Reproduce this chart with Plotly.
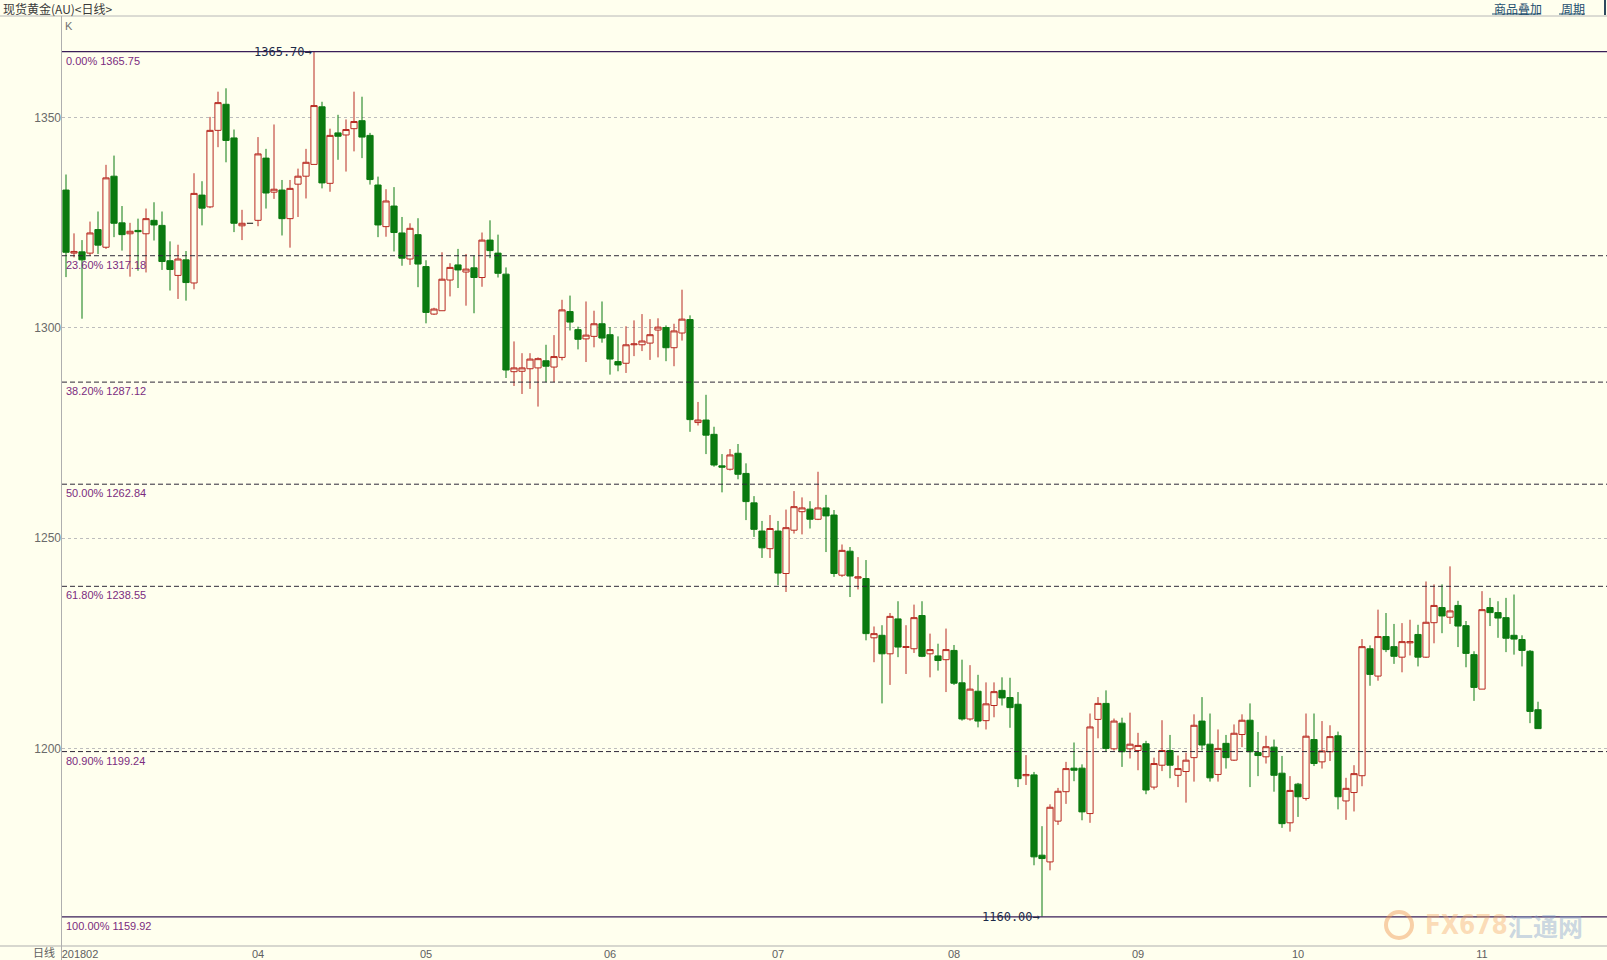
import pandas as pd
import plotly.graph_objects as go

# ---------------- data ----------------
dates = pd.bdate_range("2018-02-27", "2018-11-12")  # 185 trading days

open_ = [1332.8, 1317.8, 1318.1, 1317.8, 1323.4, 1319.2, 1336.1, 1325.0, 1322.4, 1323.2,
         1322.4, 1325.6, 1324.4, 1316.0, 1312.5, 1316.2, 1310.7, 1331.6, 1328.8, 1347.0,
         1353.2, 1345.2, 1324.3, 1324.9, 1325.6, 1340.4, 1332.3, 1332.8, 1326.0, 1334.2,
         1336.1, 1338.9, 1352.6, 1334.4, 1346.4, 1345.9, 1347.4, 1349.3, 1345.8, 1334.0,
         1324.1, 1329.0, 1322.6, 1316.4, 1322.2, 1314.6, 1303.3, 1304.1, 1311.4, 1315.0,
         1313.3, 1314.3, 1312.0, 1320.9, 1317.8, 1312.8, 1289.6, 1289.7, 1290.3, 1290.5,
         1292.2, 1290.7, 1293.0, 1303.9, 1299.6, 1297.4, 1298.0, 1301.0, 1298.4, 1292.0,
         1291.6, 1296.0, 1296.0, 1296.4, 1299.5, 1300.1, 1295.3, 1298.8, 1302.0, 1277.5,
         1278.1, 1274.7, 1267.2, 1266.4, 1270.2, 1265.4, 1258.4, 1251.7, 1247.5, 1251.7,
         1241.6, 1251.9, 1256.3, 1256.9, 1254.5, 1257.2, 1255.5, 1241.2, 1246.9, 1240.5,
         1240.4, 1226.3, 1226.9, 1222.5, 1230.8, 1224.0, 1223.7, 1231.6, 1222.5, 1222.0,
         1221.1, 1223.3, 1215.6, 1207.0, 1213.6, 1206.6, 1210.2, 1213.8, 1212.1, 1210.5,
         1193.5, 1193.7, 1174.6, 1173.0, 1182.7, 1189.7, 1195.3, 1195.3, 1184.5, 1206.9,
         1210.7, 1199.9, 1206.0, 1199.9, 1199.5, 1201.1, 1190.8, 1196.0, 1199.5, 1193.6,
         1194.5, 1197.8, 1206.5, 1201.0, 1193.8, 1201.2, 1197.2, 1203.3, 1206.7, 1199.0,
         1198.0, 1200.3, 1194.1, 1182.3, 1191.5, 1188.1, 1202.1, 1196.8, 1199.2, 1203.0,
         1187.5, 1189.5, 1193.5, 1223.7, 1217.2, 1226.6, 1224.2, 1221.7, 1225.1, 1227.1,
         1221.7, 1229.9, 1233.5, 1231.2, 1234.0, 1229.2, 1222.3, 1214.1, 1233.5, 1232.3,
         1231.1, 1226.9, 1225.9, 1223.1, 1209.2]

high = [1336.5, 1322.5, 1320.9, 1325.3, 1327.7, 1338.8, 1341.0, 1329.0, 1325.0, 1326.0,
        1328.4, 1329.9, 1327.7, 1320.6, 1319.8, 1318.3, 1336.8, 1334.9, 1350.2, 1356.2,
        1357.0, 1347.2, 1328.1, 1324.9, 1345.4, 1342.6, 1348.4, 1335.2, 1335.2, 1337.9,
        1342.6, 1365.7, 1353.8, 1347.4, 1350.7, 1349.6, 1356.2, 1355.0, 1346.4, 1336.0,
        1333.0, 1333.5, 1326.4, 1324.9, 1326.1, 1316.1, 1304.8, 1318.0, 1315.4, 1318.8,
        1317.6, 1317.2, 1322.7, 1325.6, 1322.2, 1314.4, 1296.8, 1294.0, 1294.0, 1293.0,
        1296.0, 1298.3, 1306.7, 1307.7, 1300.3, 1306.3, 1304.1, 1306.3, 1300.2, 1298.0,
        1300.4, 1301.8, 1303.3, 1302.1, 1302.3, 1300.6, 1301.0, 1309.1, 1303.0, 1282.4,
        1284.1, 1276.5, 1270.0, 1271.2, 1272.4, 1267.8, 1260.0, 1254.1, 1255.5, 1254.1,
        1256.8, 1261.2, 1259.7, 1258.8, 1265.8, 1260.3, 1256.7, 1248.5, 1247.9, 1245.5,
        1244.8, 1229.0, 1229.3, 1232.2, 1235.0, 1229.3, 1234.2, 1235.0, 1227.3, 1224.9,
        1228.5, 1224.6, 1221.1, 1219.8, 1217.5, 1215.7, 1215.7, 1216.9, 1216.8, 1213.4,
        1198.4, 1194.4, 1181.5, 1186.7, 1190.6, 1196.8, 1201.4, 1196.2, 1208.3, 1212.2,
        1213.8, 1207.1, 1207.3, 1208.5, 1203.7, 1201.8, 1197.8, 1206.7, 1203.2, 1198.3,
        1199.0, 1208.1, 1212.2, 1208.3, 1204.5, 1203.2, 1205.7, 1208.1, 1210.7, 1203.9,
        1203.0, 1202.1, 1198.2, 1193.4, 1191.8, 1208.3, 1208.3, 1206.5, 1205.5, 1204.0,
        1193.0, 1196.0, 1226.0, 1224.5, 1233.0, 1232.2, 1229.6, 1229.8, 1230.6, 1229.4,
        1239.7, 1239.0, 1239.0, 1243.3, 1235.1, 1230.3, 1223.1, 1237.4, 1235.8, 1235.0,
        1235.8, 1236.6, 1226.9, 1223.4, 1211.1]

low = [1312.1, 1316.8, 1302.2, 1317.2, 1317.6, 1318.8, 1321.6, 1318.4, 1312.2, 1313.6,
       1313.2, 1320.8, 1313.8, 1308.9, 1306.9, 1306.5, 1309.2, 1324.4, 1328.5, 1343.0,
       1339.4, 1322.8, 1320.9, 1324.9, 1324.2, 1328.4, 1330.7, 1322.0, 1319.1, 1326.4,
       1330.8, 1338.9, 1333.2, 1332.4, 1340.0, 1337.2, 1342.0, 1340.4, 1334.1, 1321.6,
       1321.7, 1318.2, 1314.8, 1315.0, 1309.7, 1301.1, 1303.1, 1304.1, 1307.5, 1309.5,
       1305.3, 1303.5, 1309.8, 1316.6, 1312.0, 1288.1, 1286.2, 1284.3, 1285.5, 1281.3,
       1287.1, 1287.1, 1292.3, 1299.4, 1294.9, 1291.9, 1295.4, 1296.5, 1288.9, 1289.7,
       1289.3, 1293.3, 1294.5, 1292.4, 1293.0, 1292.1, 1290.9, 1297.0, 1275.3, 1276.8,
       1270.0, 1267.0, 1260.9, 1266.1, 1264.0, 1254.3, 1250.3, 1245.3, 1245.3, 1238.8,
       1237.2, 1251.1, 1250.9, 1252.3, 1254.3, 1246.7, 1240.8, 1240.8, 1236.0, 1237.8,
       1225.7, 1220.5, 1210.7, 1215.1, 1221.7, 1217.7, 1222.7, 1221.7, 1216.9, 1218.5,
       1213.4, 1215.1, 1206.6, 1206.6, 1205.0, 1204.5, 1207.4, 1210.2, 1204.9, 1190.8,
       1191.3, 1172.2, 1160.0, 1171.0, 1181.8, 1186.8, 1192.2, 1182.9, 1182.3, 1202.4,
       1199.2, 1199.5, 1195.6, 1197.6, 1194.8, 1189.1, 1190.2, 1194.6, 1192.9, 1190.8,
       1187.1, 1192.1, 1199.5, 1192.1, 1192.1, 1195.2, 1197.0, 1200.3, 1190.8, 1193.4,
       1196.4, 1189.7, 1181.1, 1180.2, 1183.7, 1187.6, 1195.8, 1195.2, 1197.0, 1185.5,
       1183.0, 1185.0, 1191.0, 1214.9, 1216.1, 1222.9, 1220.1, 1218.1, 1222.1, 1219.5,
       1221.5, 1225.0, 1227.4, 1229.6, 1224.1, 1219.3, 1211.3, 1214.1, 1229.1, 1226.3,
       1222.9, 1222.3, 1219.5, 1206.0, 1204.7]

close = [1318.0, 1318.2, 1316.2, 1322.6, 1319.7, 1335.7, 1324.9, 1322.2, 1323.0, 1322.9,
         1326.0, 1324.5, 1315.8, 1313.9, 1316.4, 1310.8, 1332.0, 1328.5, 1347.0, 1353.6,
         1344.6, 1324.9, 1324.9, 1324.9, 1341.4, 1332.1, 1333.0, 1326.0, 1333.2, 1336.1,
         1339.4, 1352.9, 1334.5, 1345.8, 1345.6, 1347.2, 1349.1, 1345.4, 1335.3, 1324.5,
         1330.2, 1322.7, 1316.6, 1323.7, 1315.2, 1303.7, 1304.5, 1311.6, 1314.4, 1313.8,
         1314.0, 1312.0, 1320.9, 1318.4, 1313.0, 1290.0, 1290.5, 1290.5, 1292.6, 1292.7,
         1290.9, 1293.2, 1304.3, 1301.4, 1297.3, 1298.3, 1301.0, 1297.6, 1292.6, 1291.2,
         1296.0, 1296.2, 1296.9, 1298.4, 1300.2, 1295.3, 1299.3, 1302.1, 1278.2, 1278.1,
         1274.5, 1267.4, 1266.9, 1269.8, 1265.2, 1258.7, 1252.1, 1247.7, 1252.3, 1241.7,
         1252.5, 1257.5, 1257.2, 1254.5, 1257.2, 1255.3, 1241.6, 1247.1, 1241.0, 1240.8,
         1227.3, 1227.3, 1222.5, 1231.4, 1224.1, 1224.2, 1231.1, 1221.9, 1223.5, 1220.9,
         1223.5, 1215.5, 1207.0, 1214.1, 1206.5, 1210.6, 1213.5, 1212.0, 1209.7, 1192.8,
         1193.8, 1174.2, 1173.8, 1186.0, 1189.8, 1195.2, 1194.8, 1184.9, 1205.1, 1210.7,
         1200.0, 1206.5, 1199.2, 1201.0, 1200.7, 1190.1, 1196.4, 1199.5, 1196.0, 1195.2,
         1197.2, 1205.5, 1200.8, 1193.0, 1200.0, 1197.8, 1203.6, 1206.7, 1199.2, 1198.3,
         1200.4, 1193.6, 1182.1, 1190.0, 1188.5, 1202.9, 1196.4, 1199.4, 1202.8, 1188.5,
         1190.5, 1194.0, 1224.2, 1217.6, 1226.6, 1223.5, 1221.9, 1225.4, 1225.4, 1221.7,
         1230.0, 1234.0, 1231.5, 1232.7, 1229.1, 1222.6, 1214.5, 1233.0, 1232.3, 1231.0,
         1226.2, 1226.0, 1223.3, 1208.8, 1204.7]

month_labels = ["201802", "04", "05", "06", "07", "08", "09", "10", "11"]
fib_pcts = ["0.00%", "23.60%", "38.20%", "50.00%", "61.80%", "80.90%", "100.00%"]
fib_values = [1365.75, 1317.18, 1287.12, 1262.84, 1238.55, 1199.24, 1159.92]
y_ticks = [1200, 1250, 1300, 1350]
peak_label = "1365.70"
trough_label = "1160.00"

# ---------------- styling ----------------
W, H = 1607, 960
ML, MR, MT, MB = 62, 0, 16, 14
PW, PH = W - ML - MR, H - MT - MB
BG = "#FFFFEE"
RED = "#B82A22"
GREEN = "#0B7A10"
FIB_SOLID = "#3A1E58"
FIB_DASH = "#2E2838"
FIB_TXT = "#7B2C7E"
AXIS_GREY = "#AFAFAF"


def px(x):
    return (x - ML) / PW


def py(y):
    return (H - MB - y) / PH


x = list(range(len(dates)))

# month start positions (first trading day of each month)
month_pos = [0]
for i in range(1, len(dates)):
    if dates[i].month != dates[i - 1].month and dates[i].month != 3:
        month_pos.append(i)
tickvals = [month_pos[0] + 1.75] + month_pos[1:]

# split doji (open == close == high == low) from regular candles
doji = [i for i in x if open_[i] == close[i] == high[i] == low[i]]
reg = [i for i in x if i not in doji]

fig = go.Figure()
fig.add_trace(go.Candlestick(
    x=[x[i] for i in reg],
    open=[open_[i] for i in reg], high=[high[i] for i in reg],
    low=[low[i] for i in reg], close=[close[i] for i in reg],
    increasing=dict(line=dict(color=RED, width=1), fillcolor=BG),
    decreasing=dict(line=dict(color=GREEN, width=1), fillcolor=GREEN),
    whiskerwidth=0, hoverinfo="skip", showlegend=False,
))
fig.add_trace(go.Candlestick(
    x=[x[i] for i in doji],
    open=[open_[i] for i in doji], high=[high[i] for i in doji],
    low=[low[i] for i in doji], close=[close[i] for i in doji],
    increasing=dict(line=dict(color="#111111", width=1.2), fillcolor="#111111"),
    decreasing=dict(line=dict(color="#111111", width=1.2), fillcolor="#111111"),
    whiskerwidth=0, hoverinfo="skip", showlegend=False,
))

shapes = []
# Fibonacci lines
for k, v in enumerate(fib_values):
    solid = k in (0, len(fib_values) - 1)
    shapes.append(dict(type="line", xref="paper", yref="y", x0=0, x1=1, y0=v, y1=v,
                       line=dict(color=FIB_SOLID if solid else FIB_DASH,
                                 width=1.3 if solid else 1,
                                 dash="solid" if solid else "5px,3px"),
                       layer="above"))
# frame lines
shapes.append(dict(type="line", xref="paper", yref="paper", x0=px(0), x1=px(W), y0=py(16), y1=py(16),
                   line=dict(color="#B8B8B8", width=1)))
shapes.append(dict(type="line", xref="paper", yref="paper", x0=px(0), x1=px(W), y0=py(946), y1=py(946),
                   line=dict(color=AXIS_GREY, width=1)))
shapes.append(dict(type="line", xref="paper", yref="paper", x0=px(61.5), x1=px(61.5), y0=py(16), y1=py(960),
                   line=dict(color=AXIS_GREY, width=1)))
shapes.append(dict(type="line", xref="paper", yref="paper", x0=px(1605), x1=px(1605), y0=py(0), y1=py(15),
                   line=dict(color="#2E4A5E", width=2)))
# underline for links
shapes.append(dict(type="line", xref="paper", yref="paper", x0=px(1492), x1=px(1540), y0=py(14), y1=py(14),
                   line=dict(color="#1E4E6E", width=1)))
shapes.append(dict(type="line", xref="paper", yref="paper", x0=px(1559), x1=px(1585), y0=py(14), y1=py(14),
                   line=dict(color="#1E4E6E", width=1)))
# watermark logo
shapes.append(dict(type="circle", xref="paper", yref="paper",
                   x0=px(1386), x1=px(1412), y0=py(938), y1=py(912),
                   line=dict(color="rgba(240,150,80,0.45)", width=4)))

ann = []
ann.append(dict(x=px(1), y=py(8), xref="paper", yref="paper", xanchor="left", yanchor="middle",
                text="现货黄金(AU)&lt;日线&gt;", showarrow=False,
                font=dict(family="Noto Sans CJK SC", size=12, color="#3A3A3A")))
ann.append(dict(x=px(63), y=py(26), xref="paper", yref="paper", xanchor="left", yanchor="middle",
                text="K", showarrow=False, font=dict(family="Liberation Sans", size=11, color="#707070")))
ann.append(dict(x=px(1492), y=py(8), xref="paper", yref="paper", xanchor="left", yanchor="middle",
                text="商品叠加", showarrow=False,
                font=dict(family="Noto Sans CJK SC", size=12, color="#1E4E6E")))
ann.append(dict(x=px(1559), y=py(8), xref="paper", yref="paper", xanchor="left", yanchor="middle",
                text="周期", showarrow=False,
                font=dict(family="Noto Sans CJK SC", size=12, color="#1E4E6E")))
ann.append(dict(x=px(57), y=py(952), xref="paper", yref="paper", xanchor="right", yanchor="middle",
                text="日线", showarrow=False,
                font=dict(family="Noto Sans CJK SC", size=11, color="#606060")))
for pct, v in zip(fib_pcts, fib_values):
    ann.append(dict(x=px(64), y=v, xref="paper", yref="y", xanchor="left", yanchor="top", yshift=-1,
                    text=f"{pct} {v:.2f}", showarrow=False,
                    font=dict(family="Liberation Sans", size=11, color=FIB_TXT)))
# extreme markers
i_hi = max(x, key=lambda i: high[i])
i_lo = min(x, key=lambda i: low[i])
ann.append(dict(x=x[i_hi], y=high[i_hi], xref="x", yref="y", xanchor="right", yanchor="middle",
                text=peak_label + "→", showarrow=False,
                font=dict(family="DejaVu Sans Mono", size=12, color="#1C2A48")))
ann.append(dict(x=x[i_lo], y=low[i_lo], xref="x", yref="y", xanchor="right", yanchor="middle",
                text=trough_label + "→", showarrow=False,
                font=dict(family="DejaVu Sans Mono", size=12, color="#1C2A48")))
# watermark
ann.append(dict(x=px(1423), y=py(925), xref="paper", yref="paper", xanchor="left", yanchor="middle",
                text="<b>FX678</b>", showarrow=False,
                font=dict(family="DejaVu Sans Condensed", size=26, color="rgba(246,170,105,0.42)")))
ann.append(dict(x=px(1506), y=py(925), xref="paper", yref="paper", xanchor="left", yanchor="middle",
                text="<b>汇通网</b>", showarrow=False,
                font=dict(family="Noto Sans CJK SC", size=25, color="rgba(130,160,205,0.42)")))

fig.update_layout(
    width=W, height=H,
    margin=dict(l=ML, r=MR, t=MT, b=MB, pad=0),
    paper_bgcolor=BG, plot_bgcolor=BG,
    boxgap=0.12, boxgroupgap=0.12,
    shapes=shapes, annotations=ann,
    showlegend=False,
    xaxis=dict(range=[-0.5, (PW / 8.0) - 0.5], showgrid=False, zeroline=False, showline=False,
               ticks="", tickvals=tickvals, ticktext=month_labels,
               tickfont=dict(family="Liberation Sans", size=11, color="#606060"),
               rangeslider=dict(visible=False), fixedrange=True),
    yaxis=dict(range=[1153.0, 1374.2], tickvals=y_ticks, showgrid=True, gridcolor="#BDBDBD",
               griddash="dot", gridwidth=1, zeroline=False, showline=False, ticks="",
               tickfont=dict(family="Liberation Sans", size=12, color="#6A6A6A"), fixedrange=True),
)

fig.write_html(
    "out.html",
    config={"displayModeBar": False},
    post_script="document.body.style.margin='0';document.body.style.background='#FFFFEE';",
)
